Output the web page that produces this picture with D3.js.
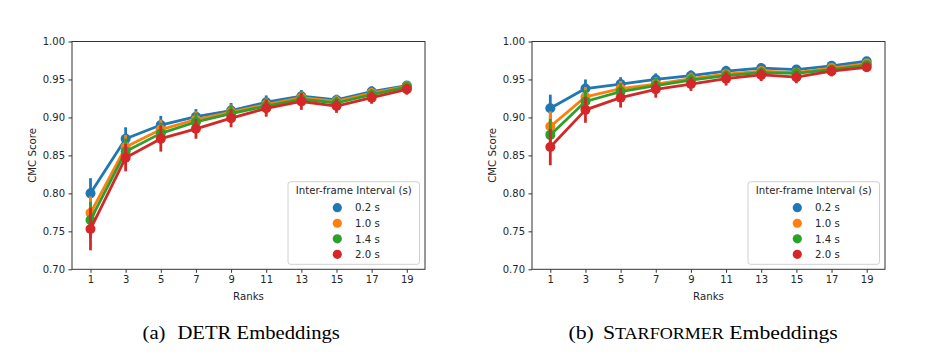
<!DOCTYPE html>
<html>
<head>
<meta charset="utf-8">
<script src="https://cdn.jsdelivr.net/npm/d3@7/dist/d3.min.js"></script>
<style>
  html, body { margin: 0; padding: 0; background: #fff; }
  svg { display: block; }
</style>
</head>
<body>
<svg id="chart" width="927" height="355"></svg>
<script>
// ---- data ----
const ranks = [1, 3, 5, 7, 9, 11, 13, 15, 17, 19];
const intervals = ["0.2 s", "1.0 s", "1.4 s", "2.0 s"];
const colors = ["#1f77b4", "#ff7f0e", "#2ca02c", "#d62728"];
const yTicks = [0.70, 0.75, 0.80, 0.85, 0.90, 0.95, 1.00];
const legendTitle = "Inter-frame Interval (s)";

// (a) DETR embeddings: mean CMC score per rank
const detr_02 = [0.800, 0.872, 0.890, 0.901, 0.909, 0.920, 0.928, 0.923, 0.934, 0.942];
const detr_10 = [0.774, 0.861, 0.884, 0.897, 0.907, 0.917, 0.926, 0.921, 0.932, 0.941];
const detr_14 = [0.765, 0.855, 0.879, 0.894, 0.905, 0.915, 0.924, 0.919, 0.930, 0.940];
const detr_20 = [0.753, 0.847, 0.872, 0.885, 0.899, 0.912, 0.921, 0.915, 0.926, 0.937];
// confidence half-widths
const detrErr_02 = [0.020, 0.015, 0.012, 0.010, 0.010, 0.009, 0.008, 0.007, 0.007, 0.006];
const detrErr_10 = [0.022, 0.016, 0.013, 0.011, 0.010, 0.009, 0.008, 0.008, 0.007, 0.006];
const detrErr_14 = [0.024, 0.017, 0.014, 0.012, 0.011, 0.010, 0.009, 0.008, 0.007, 0.006];
const detrErr_20 = [0.028, 0.018, 0.017, 0.013, 0.012, 0.011, 0.011, 0.009, 0.008, 0.007];

// (b) STARFORMER embeddings
const star_02 = [0.912, 0.938, 0.944, 0.950, 0.955, 0.961, 0.965, 0.963, 0.968, 0.974];
const star_10 = [0.888, 0.927, 0.938, 0.944, 0.951, 0.957, 0.961, 0.959, 0.965, 0.971];
const star_14 = [0.877, 0.921, 0.934, 0.942, 0.949, 0.955, 0.959, 0.958, 0.963, 0.969];
const star_20 = [0.861, 0.910, 0.926, 0.937, 0.944, 0.951, 0.956, 0.953, 0.961, 0.966];
const starErr_02 = [0.018, 0.012, 0.009, 0.008, 0.007, 0.007, 0.006, 0.006, 0.005, 0.005];
const starErr_10 = [0.020, 0.013, 0.010, 0.009, 0.008, 0.007, 0.006, 0.006, 0.006, 0.005];
const starErr_14 = [0.021, 0.015, 0.011, 0.010, 0.008, 0.008, 0.007, 0.007, 0.006, 0.005];
const starErr_20 = [0.024, 0.017, 0.013, 0.011, 0.009, 0.009, 0.008, 0.008, 0.007, 0.006];

const panels = [
  { series: [detr_02, detr_10, detr_14, detr_20], errs: [detrErr_02, detrErr_10, detrErr_14, detrErr_20],
    frame: [72, 425], pts: [90.5, 406.8] },
  { series: [star_02, star_10, star_14, star_20], errs: [starErr_02, starErr_10, starErr_14, starErr_20],
    frame: [532, 885], pts: [550.3, 866.7] }
];

const svg = d3.select("#chart");
const font = "'DejaVu Sans', sans-serif";
const txtCol = "#262626";
const plotTop = 41.5, plotBottom = 269.3;

const y = d3.scaleLinear().domain([0.70, 1.00]).range([plotBottom, plotTop]);

panels.forEach((p) => {
  const g = svg.append("g");
  const x = d3.scalePoint().domain(ranks).range(p.pts);

  g.append("rect")
    .attr("x", p.frame[0]).attr("y", plotTop)
    .attr("width", p.frame[1] - p.frame[0]).attr("height", plotBottom - plotTop)
    .attr("fill", "none").attr("stroke", "#333").attr("stroke-width", 1);

  const yAxis = d3.axisLeft(y).tickValues(yTicks).tickFormat(d3.format(".2f")).tickSize(3.5).tickPadding(3.5);
  const ya = g.append("g").attr("transform", `translate(${p.frame[0]},0)`).call(yAxis);
  const xAxis = d3.axisBottom(x).tickSize(3.5).tickPadding(3.5);
  const xa = g.append("g").attr("transform", `translate(0,${plotBottom})`).call(xAxis);
  [ya, xa].forEach(a => {
    a.select(".domain").remove();
    a.selectAll("line").attr("stroke", "#333");
    a.selectAll("text").attr("font-family", font).attr("font-size", "10px").attr("fill", txtCol);
  });

  g.append("text")
    .attr("x", (p.frame[0] + p.frame[1]) / 2).attr("y", 299.5)
    .attr("text-anchor", "middle").attr("font-family", font).attr("font-size", "10.2px")
    .attr("fill", txtCol).text("Ranks");
  g.append("text")
    .attr("transform", `translate(${p.frame[0] - 36.5},${(plotTop + plotBottom) / 2}) rotate(-90)`)
    .attr("text-anchor", "middle").attr("font-family", font).attr("font-size", "10.2px")
    .attr("fill", txtCol).text("CMC Score");

  p.series.forEach((vals, si) => {
    const col = colors[si];
    const errs = p.errs[si];
    const sg = g.append("g");
    sg.selectAll("line.err").data(ranks).enter().append("line")
      .attr("class", "err")
      .attr("x1", d => x(d)).attr("x2", d => x(d))
      .attr("y1", (d, i) => y(vals[i] - errs[i]))
      .attr("y2", (d, i) => y(vals[i] + errs[i]))
      .attr("stroke", col).attr("stroke-width", 2.8);
    const line = d3.line().x((d, i) => x(ranks[i])).y(d => y(d));
    sg.append("path").datum(vals).attr("d", line)
      .attr("fill", "none").attr("stroke", col).attr("stroke-width", 2.8)
      .attr("stroke-linejoin", "round");
    sg.selectAll("circle").data(vals).enter().append("circle")
      .attr("cx", (d, i) => x(ranks[i])).attr("cy", d => y(d))
      .attr("r", 5).attr("fill", col);
  });

  const lx = p.frame[1] - 137, ly = 181.7, lw = 131.5, lh = 82.6;
  const lg = g.append("g");
  lg.append("rect").attr("x", lx).attr("y", ly).attr("width", lw).attr("height", lh)
    .attr("rx", 2.5).attr("fill", "#fff").attr("fill-opacity", 0.8)
    .attr("stroke", "#d0d0d0").attr("stroke-width", 1);
  lg.append("text").attr("x", lx + lw / 2).attr("y", ly + 12.6)
    .attr("text-anchor", "middle").attr("font-family", font).attr("font-size", "10.2px")
    .attr("fill", txtCol).text(legendTitle);
  intervals.forEach((lab, i) => {
    const cy = ly + 26 + i * 15.55;
    lg.append("circle").attr("cx", lx + 49.3).attr("cy", cy).attr("r", 4.6).attr("fill", colors[i]);
    lg.append("text").attr("x", lx + 67).attr("y", cy + 3.7)
      .attr("font-family", font).attr("font-size", "10.2px").attr("fill", txtCol).text(lab);
  });
});

// captions (fitted horizontally to the widths seen in the reference)
const serif = "'Liberation Serif', 'Times New Roman', serif";
function fitCaption(sel, x0, x1, baseline) {
  const w = sel.node().getBBox().width;
  const sx = (x1 - x0) / w;
  sel.attr("transform", `translate(${x0},${baseline}) scale(${sx},1)`);
}
const capA = svg.append("text").attr("x", 0).attr("y", 0)
  .attr("font-family", serif).attr("font-size", "19px").attr("fill", "#000");
capA.append("tspan").text("(a)");
capA.append("tspan").attr("dx", 11).text("DETR Embeddings");
fitCaption(capA, 142.5, 340, 339);

const capB = svg.append("text").attr("x", 0).attr("y", 0)
  .attr("font-family", serif).attr("font-size", "19px").attr("fill", "#000");
capB.append("tspan").text("(b)");
capB.append("tspan").attr("dx", 8).text("S");
capB.append("tspan").attr("font-size", "15.8px").text("TARFORMER");
capB.append("tspan").text(" Embeddings");
fitCaption(capB, 568.5, 838, 339);
</script>
</body>
</html>
